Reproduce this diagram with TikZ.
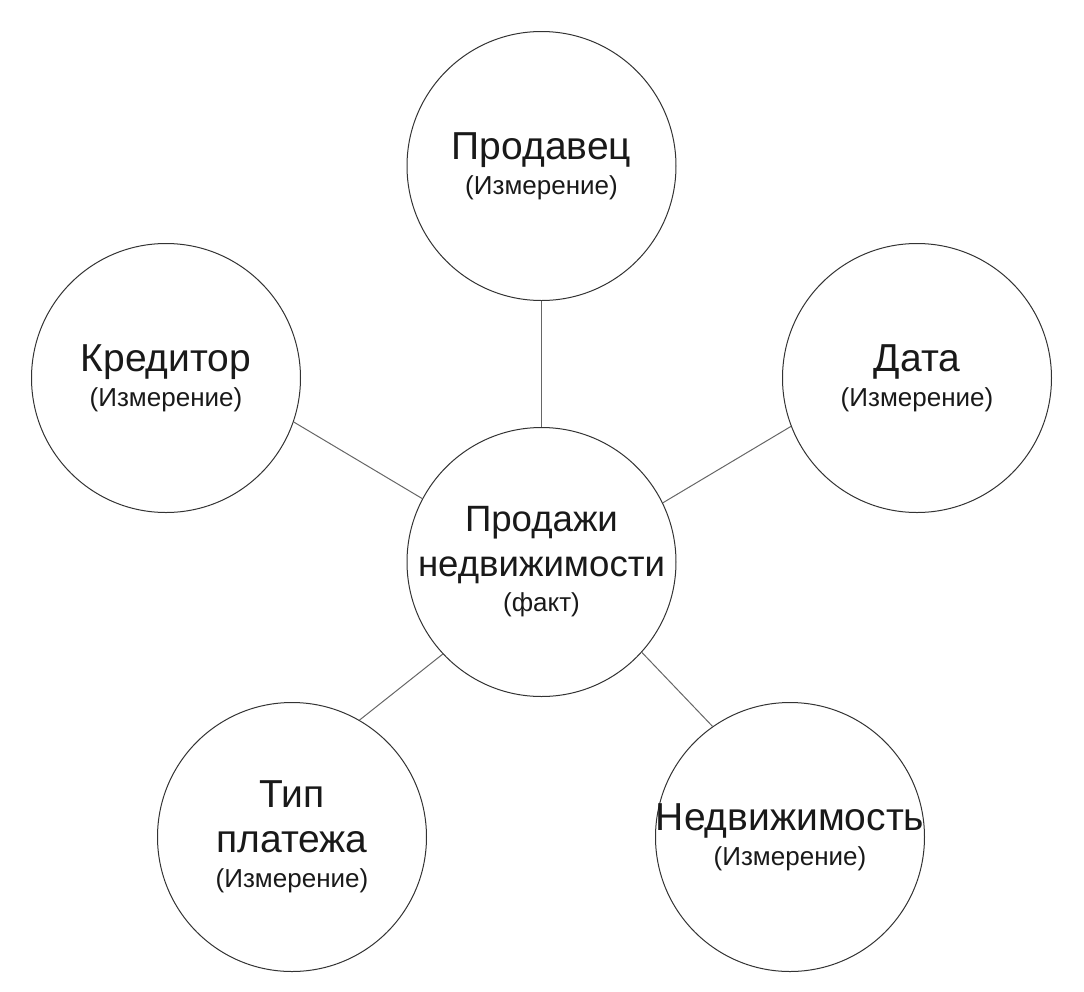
\documentclass[tikz,border=0pt]{standalone}
\usepackage{fontspec}
\setmainfont{Liberation Sans}
\usetikzlibrary{calc}
\newcommand{\subtxt}{\fontsize{13}{17.5}\selectfont}

\begin{document}
\begin{tikzpicture}[x=0.5pt, y=-0.5pt, font=\fontsize{19.5}{22.5}\selectfont, text=black!90,
		dimmode/.style={circle, minimum size=134.5pt, inner sep=-12pt, draw=black!80, line width=0.5pt, align=center},
		factmode/.style={circle, minimum size=134.5pt, inner sep=-12pt, draw=black!80, line width=0.5pt, align=center, font=\fontsize{18.3}{22.5}\selectfont},
		link/.style={draw=black!60, line width=0.5pt}]
		\useasboundingbox (0,0) rectangle (1084,992);
		\node (fact) [factmode] at (541.5,562) {Продажи\\недвижимости\\[-5pt]\subtxt (факт)};
		\node (prod) [dimmode] at ($(fact)+(0,-396)$) {Продавец\\[-5pt]\subtxt (Измерение)};
		\node (krd)  [dimmode] at ($(fact)+(-375.5,-184)$) {Кредитор\\[-5pt]\subtxt (Измерение)};
		\node (data) [dimmode] at ($(fact)+(375.5,-184)$) {Дата\\[-5pt]\subtxt (Измерение)};
		\node (tip)  [dimmode] at ($(fact)+(-249.5,275)$) {Тип\\платежа\\[-5pt]\subtxt (Измерение)};
		\node (ned)  [dimmode] at ($(fact)+(248.5,275)$) {Недвижимость\\[-5pt]\subtxt (Измерение)};
		
		\draw [link] (prod.-90) -- (fact.90);
		\draw [link] (krd.-19) -- (fact.152);
		\draw [link] (data.201) -- (fact.26);
		\draw [link] (tip.60) -- (fact.223);
		\draw [link] (ned.125) -- (fact.-42);
	\end{tikzpicture}
\end{document}
